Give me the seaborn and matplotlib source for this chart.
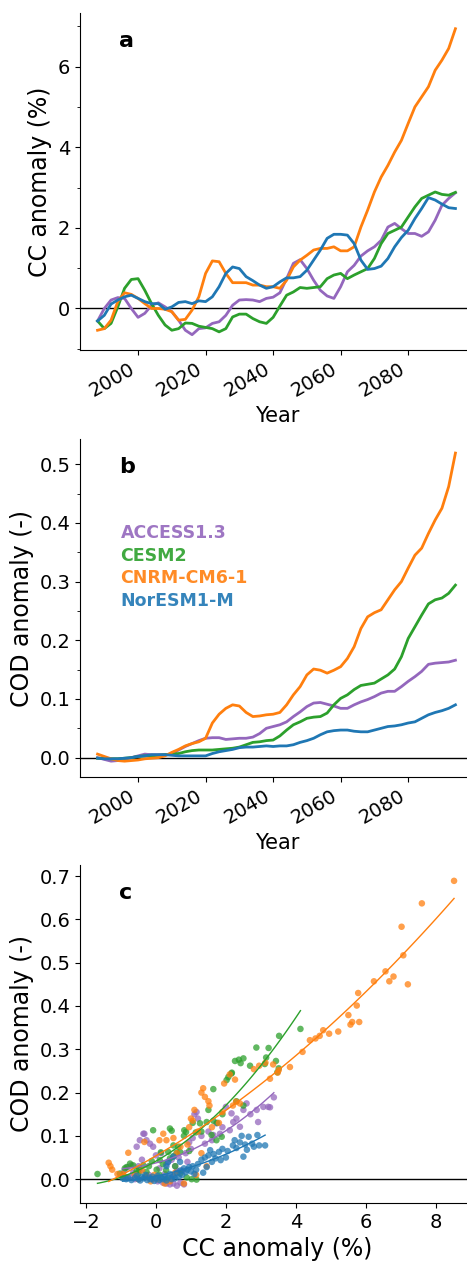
import numpy as np
import pandas as pd
import matplotlib
matplotlib.use("Agg")
import matplotlib.pyplot as plt
from matplotlib.ticker import MultipleLocator
import seaborn as sns

# ---------------- data ----------------
models = ["ACCESS1.3", "CESM2", "CNRM-CM6-1", "NorESM1-M"]
colors = ["#9467bd", "#2ca02c", "#ff7f0e", "#1f77b4"]
years = list(range(1988, 2095, 2))

cc_access = [-0.31, 0.0, 0.21, 0.27, 0.25, 0.0, -0.22, -0.12, 0.08, 0.14, 0.04, -0.08, -0.29, -0.54,
             -0.65, -0.50, -0.48, -0.37, -0.33, -0.17, 0.08, 0.21, 0.22, 0.21, 0.17, 0.25, 0.28, 0.39,
             0.74, 1.12, 1.21, 0.99, 0.70, 0.45, 0.31, 0.25, 0.54, 0.91, 1.07, 1.30, 1.43, 1.53,
             1.69, 2.02, 2.11, 1.98, 1.86, 1.86, 1.79, 1.90, 2.19, 2.56, 2.73, 2.87]
cc_cesm = [-0.31, -0.50, -0.37, 0.04, 0.50, 0.72, 0.74, 0.45, 0.12, -0.17, -0.41, -0.54, -0.50, -0.36,
           -0.37, -0.44, -0.47, -0.50, -0.58, -0.50, -0.21, -0.14, -0.14, -0.25, -0.33, -0.37, -0.22, 0.06,
           0.33, 0.41, 0.52, 0.50, 0.52, 0.54, 0.74, 0.83, 0.87, 0.74, 0.83, 0.91, 0.99, 1.24,
           1.61, 1.86, 1.94, 2.02, 2.27, 2.52, 2.73, 2.81, 2.89, 2.83, 2.81, 2.88]
cc_cnrm = [-0.54, -0.50, -0.29, 0.17, 0.39, 0.35, 0.25, 0.12, 0.0, 0.0, -0.02, -0.08, -0.29, -0.27,
           -0.04, 0.29, 0.87, 1.18, 1.16, 0.87, 0.64, 0.64, 0.64, 0.58, 0.58, 0.54, 0.54, 0.50,
           0.70, 1.03, 1.20, 1.32, 1.45, 1.49, 1.49, 1.53, 1.43, 1.43, 1.53, 2.02, 2.44, 2.89,
           3.26, 3.55, 3.88, 4.17, 4.59, 5.00, 5.25, 5.50, 5.91, 6.16, 6.45, 6.94]
cc_nor = [-0.31, -0.17, 0.11, 0.21, 0.29, 0.33, 0.25, 0.17, 0.12, 0.12, -0.02, 0.04, 0.15, 0.17,
          0.12, 0.19, 0.17, 0.29, 0.54, 0.87, 1.03, 0.99, 0.79, 0.69, 0.58, 0.50, 0.54, 0.66,
          0.76, 0.76, 0.79, 0.95, 1.20, 1.45, 1.74, 1.84, 1.84, 1.82, 1.61, 1.20, 0.97, 0.99,
          1.05, 1.24, 1.53, 1.76, 1.94, 2.23, 2.48, 2.75, 2.69, 2.59, 2.50, 2.48]

cod_access = [0.0, -0.003, -0.006, -0.005, -0.003, 0.0, 0.003, 0.006, 0.005, 0.005, 0.005, 0.006, 0.013, 0.019,
              0.024, 0.029, 0.033, 0.034, 0.034, 0.031, 0.032, 0.033, 0.033, 0.035, 0.041, 0.050, 0.053, 0.056,
              0.061, 0.070, 0.078, 0.087, 0.093, 0.094, 0.091, 0.088, 0.084, 0.084, 0.090, 0.095, 0.099, 0.104,
              0.110, 0.113, 0.113, 0.121, 0.130, 0.138, 0.147, 0.159, 0.161, 0.162, 0.163, 0.166]
cod_cesm = [-0.001, -0.001, -0.002, -0.002, -0.001, 0.0, 0.002, 0.003, 0.003, 0.004, 0.005, 0.006, 0.007, 0.010,
            0.012, 0.013, 0.013, 0.013, 0.014, 0.015, 0.016, 0.018, 0.022, 0.026, 0.027, 0.029, 0.030, 0.037,
            0.047, 0.056, 0.061, 0.067, 0.069, 0.070, 0.076, 0.090, 0.101, 0.107, 0.116, 0.123, 0.125, 0.127,
            0.134, 0.141, 0.151, 0.172, 0.203, 0.223, 0.243, 0.262, 0.269, 0.272, 0.280, 0.294]
cod_cnrm = [0.006, 0.002, -0.002, -0.005, -0.006, -0.005, -0.004, -0.002, -0.001, 0.0, 0.003, 0.009, 0.014, 0.020,
            0.024, 0.027, 0.033, 0.059, 0.074, 0.084, 0.090, 0.088, 0.077, 0.070, 0.071, 0.073, 0.074, 0.077,
            0.090, 0.107, 0.121, 0.141, 0.151, 0.149, 0.144, 0.149, 0.155, 0.169, 0.189, 0.220, 0.240, 0.247,
            0.252, 0.269, 0.286, 0.300, 0.323, 0.345, 0.357, 0.382, 0.405, 0.425, 0.462, 0.519]
cod_nor = [-0.001, -0.002, -0.002, -0.002, -0.001, 0.0, 0.002, 0.003, 0.005, 0.005, 0.005, 0.004, 0.003, 0.003,
           0.003, 0.003, 0.003, 0.007, 0.010, 0.012, 0.014, 0.017, 0.018, 0.018, 0.019, 0.020, 0.019, 0.020,
           0.020, 0.022, 0.026, 0.029, 0.033, 0.039, 0.044, 0.046, 0.047, 0.047, 0.045, 0.044, 0.044, 0.047,
           0.050, 0.053, 0.054, 0.056, 0.059, 0.061, 0.067, 0.073, 0.077, 0.080, 0.084, 0.090]

# annual scatter values (panel c): CC anomaly (%) and COD anomaly (-)
sc_cc_access = [-0.95, -0.9, -0.8, -0.75, -0.7, -0.65, -0.6, -0.55, -0.5, -0.45, -0.4, -0.33, -0.27, -0.2,
                -0.1, -0.08, 0.0, 0.05, 0.1, 0.15, 0.2, 0.25, 0.3, 0.35, 0.4, 0.45, 0.5, 0.55, 0.6, 0.65,
                0.7, 0.75, 0.8, 0.85, 0.9, 0.95, 1.0, 1.05, 1.1, 1.16, 1.2, 1.3, 1.4, 1.5, 1.6, 1.64, 1.73,
                1.83, 1.9, 2.0, 2.11, 2.16, 2.21, 2.3, 2.4, 2.5, 2.59, 2.7, 2.88, 2.92, 3.07, 3.21, 3.26, 3.37,
                -0.46, -0.17, -0.36, 0.3, 0.6, 0.45]
sc_cod_access = [0.01, 0.02, 0.028, 0.005, 0.032, 0.015, 0.0, 0.075, 0.03, 0.02, 0.045, 0.105, 0.09, 0.01,
                 0.0, 0.075, 0.055, -0.005, 0.025, 0.06, -0.008, 0.012, -0.01, 0.04, -0.012, 0.005, -0.01, 0.03,
                 -0.015, 0.05, -0.008, 0.02, -0.012, 0.06, 0.04, 0.085, 0.07, 0.095, 0.15, 0.155, 0.14, 0.1,
                 0.082, 0.11, 0.09, 0.102, 0.129, 0.105, 0.12, 0.167, 0.113, 0.152, 0.132, 0.14, 0.121, 0.16,
                 0.175, 0.15, 0.16, 0.132, 0.167, 0.167, 0.166, 0.189, 0.09, 0.082, 0.105, 0.035, 0.02, 0.045]
sc_cc_cesm = [-1.67, -1.03, -0.95, -0.89, -0.84, -0.74, -0.65, -0.55, -0.50, -0.48, -0.36, -0.3, -0.27, -0.2,
              -0.12, -0.08, 0.02, 0.1, 0.11, 0.14, 0.2, 0.29, 0.3, 0.35, 0.40, 0.40, 0.45, 0.50, 0.5, 0.55,
              0.59, 0.64, 0.69, 0.69, 0.80, 0.81, 0.86, 0.88, 0.95, 1.02, 1.05, 1.14, 1.16, 1.26, 1.3, 1.45,
              1.5, 1.59, 1.64, 1.64, 1.73, 1.75, 1.88, 1.9, 2.02, 2.07, 2.16, 2.17, 2.26, 2.3, 2.37, 2.42,
              2.5, 2.5, 2.69, 2.87, 3.11, 3.15, 3.22, 3.43, 3.47, 3.51, 3.52, 4.13]
sc_cod_cesm = [0.012, 0.013, 0.005, 0.025, 0.028, 0.036, 0.032, 0.02, 0.013, 0.024, 0.032, 0.005, 0.017, 0.03,
               0.042, 0.113, 0.022, 0.01, 0.044, 0.062, 0.035, 0.021, 0.0, 0.063, 0.117, 0.048, 0.112, 0.053, 0.078, 0.03,
               0.061, 0.075, 0.063, 0.013, 0.100, 0.113, 0.109, 0.004, 0.065, 0.0, 0.13, 0.108, -0.001, 0.129, 0.11, 0.132,
               0.16, 0.102, 0.135, 0.208, 0.090, 0.13, 0.098, 0.15, 0.229, 0.236, 0.244, 0.246, 0.273, 0.18, 0.276, 0.268,
               0.279, 0.17, 0.262, 0.304, 0.266, 0.281, 0.303, 0.273, 0.247, 0.256, 0.331, 0.347]
sc_cc_cnrm = [-1.35, -1.3, -1.25, -1.1, -0.95, -0.85, -0.79, -0.6, -0.5, -0.4, -0.33, -0.25, -0.15, -0.05,
              0.05, 0.1, 0.21, 0.25, 0.3, 0.4, 0.5, 0.55, 0.6, 0.7, 0.8, 0.9, 0.95, 1.0, 1.05, 1.1, 1.15,
              1.2, 1.3, 1.3, 1.35, 1.4, 1.45, 1.5, 1.53, 1.6, 1.8, 1.9, 1.95, 2.11, 2.2, 2.26, 2.29, 2.4, 2.8,
              2.95, 3.13, 3.26, 3.35, 3.48, 3.51, 3.83, 4.19, 4.40, 4.56, 4.68, 4.78, 4.95, 5.21, 5.50, 5.56,
              5.61, 5.74, 5.78, 5.81, 6.23, 6.56, 6.67, 6.79, 7.02, 7.07, 7.20, 7.60, 8.52]
sc_cod_cnrm = [0.038, 0.03, 0.022, 0.012, 0.012, 0.005, 0.061, 0.01, 0.0, 0.02, 0.086, 0.005, -0.005, 0.01,
               0.0, 0.09, 0.105, -0.01, 0.09, -0.005, 0.095, 0.015, 0.06, 0.075, -0.01, 0.08, 0.12, 0.14, 0.135, 0.16, 0.01,
               0.11, 0.06, 0.2, 0.21, 0.19, 0.03, 0.18, 0.17, 0.12, 0.13, 0.155, 0.221, 0.242, 0.17, 0.23, 0.179, 0.175, 0.254,
               0.262, 0.269, 0.232, 0.265, 0.246, 0.252, 0.259, 0.294, 0.321, 0.325, 0.331, 0.344, 0.336, 0.341, 0.379, 0.357,
               0.363, 0.401, 0.430, 0.363, 0.457, 0.480, 0.457, 0.468, 0.583, 0.517, 0.450, 0.637, 0.689]
sc_cc_nor = [-0.95, -0.85, -0.8, -0.7, -0.6, -0.55, -0.5, -0.45, -0.4, -0.35, -0.3, -0.25, -0.2, -0.15,
             -0.1, -0.05, 0.0, 0.05, 0.1, 0.15, 0.2, 0.25, 0.3, 0.35, 0.4, 0.45, 0.5, 0.55, 0.6, 0.65, 0.7,
             0.75, 0.8, 0.85, 0.9, 0.95, 1.0, 1.05, 1.1, 1.15, 1.2, 0.3, 0.5, 0.35, 0.69, 1.3, 1.35, 1.4,
             1.45, 1.5, 1.55, 1.6, 1.65, 1.7, 1.8, 1.85, 1.9, 2.0, 2.05, 2.2, 2.25, 2.3, 2.4, 2.45, 2.5,
             2.55, 2.6, 2.65, 2.75, 2.8, 2.9, 2.95, 3.12]
sc_cod_nor = [0.002, 0.0, 0.004, -0.002, 0.003, 0.008, 0.0, -0.003, 0.005, 0.002, 0.01, -0.002, 0.004, 0.0,
              0.006, -0.004, 0.002, 0.008, -0.002, 0.003, 0.0, 0.006, -0.003, 0.004, 0.012, 0.0, 0.007, 0.002, 0.015,
              0.005, 0.02, 0.01, 0.025, 0.016, 0.022, 0.028, 0.018, 0.03, 0.012, 0.022, 0.035, 0.03, 0.052, 0.04, 0.04,
              0.045, 0.015, 0.05, 0.028, 0.055, 0.067, 0.04, 0.058, 0.048, 0.063, 0.044, 0.07, 0.05, 0.065, 0.078,
              0.09, 0.072, 0.085, 0.1, 0.052, 0.08, 0.068, 0.098, 0.082, 0.075, 0.102, 0.078, 0.078]

# ---------------- assemble ----------------
cc_series = [cc_access, cc_cesm, cc_cnrm, cc_nor]
cod_series = [cod_access, cod_cesm, cod_cnrm, cod_nor]
sc_cc = [sc_cc_access, sc_cc_cesm, sc_cc_cnrm, sc_cc_nor]
sc_cod = [sc_cod_access, sc_cod_cesm, sc_cod_cnrm, sc_cod_nor]

ts = pd.concat([pd.DataFrame({"year": years, "cc": c, "cod": d, "model": m})
                for m, c, d in zip(models, cc_series, cod_series)], ignore_index=True)
sc = pd.concat([pd.DataFrame({"cc": c, "cod": d, "model": m})
                for m, c, d in zip(models, sc_cc, sc_cod)], ignore_index=True)
palette = dict(zip(models, colors))

plt.rcParams["font.family"] = ["DejaVu Sans"]
fig = plt.figure(figsize=(4.67, 12.62), dpi=100)
W, H = 467.0, 1262.0
def pos(l, t, r, b):
    return [l / W, 1 - b / H, (r - l) / W, (b - t) / H]

ax_a = fig.add_axes(pos(80, 13, 474, 350))
ax_b = fig.add_axes(pos(80, 439, 474, 777))
ax_c = fig.add_axes(pos(80, 865, 474, 1203))

TICK = 14
LAB = 17

# panel a
sns.lineplot(data=ts, x="year", y="cc", hue="model", palette=palette, hue_order=models,
             linewidth=2.0, legend=False, ax=ax_a)
ax_a.axhline(0, color="black", lw=1.0, zorder=0)
ax_a.set_xlim(1982.8, 2099.5)
ax_a.set_ylim(-1.03, 7.33)
ax_a.yaxis.set_major_locator(MultipleLocator(2))
ax_a.yaxis.set_minor_locator(MultipleLocator(1))
ax_a.set_ylabel("CC anomaly (%)", fontsize=LAB)
ax_a.set_xlabel("Year", fontsize=15)

# panel b
sns.lineplot(data=ts, x="year", y="cod", hue="model", palette=palette, hue_order=models,
             linewidth=2.0, legend=False, ax=ax_b)
ax_b.axhline(0, color="black", lw=1.0, zorder=0)
ax_b.set_xlim(1982.8, 2099.5)
ax_b.set_ylim(-0.033, 0.543)
ax_b.yaxis.set_major_locator(MultipleLocator(0.1))
ax_b.yaxis.set_minor_locator(MultipleLocator(0.05))
ax_b.set_ylabel("COD anomaly (-)", fontsize=LAB)
ax_b.set_xlabel("Year", fontsize=15)
for i, (m, c) in enumerate(zip(models, colors)):
    ax_b.text(0.103, 0.722 - i * 0.0667, m, color=c, alpha=0.9, fontsize=12.5, fontweight="bold",
              transform=ax_b.transAxes, ha="left", va="center")

for ax in (ax_a, ax_b):
    ax.set_xticks([2000, 2020, 2040, 2060, 2080])
    for lbl in ax.get_xticklabels():
        lbl.set_rotation(30)
        lbl.set_ha("right")

# panel c
sns.scatterplot(data=sc, x="cc", y="cod", hue="model", palette=palette, hue_order=models,
                s=22, alpha=0.75, linewidth=0, legend=False, ax=ax_c)
for m, c in zip(models, colors):
    sub = sc[sc.model == m]
    sns.regplot(data=sub, x="cc", y="cod", order=2, ci=None, scatter=False, truncate=True,
                line_kws={"color": c, "lw": 1.0}, ax=ax_c)
ax_c.axhline(0, color="black", lw=1.0, zorder=0)
ax_c.set_xlim(-2.17, 9.09)
ax_c.set_ylim(-0.055, 0.7256)
ax_c.xaxis.set_major_locator(MultipleLocator(2))
ax_c.yaxis.set_major_locator(MultipleLocator(0.1))
ax_c.set_xlabel("CC anomaly (%)", fontsize=LAB)
ax_c.set_ylabel("COD anomaly (-)", fontsize=LAB)

for ax, letter in zip((ax_a, ax_b, ax_c), "abc"):
    ax.text(0.10, 0.898, letter, transform=ax.transAxes, fontsize=16, fontweight="bold",
            ha="left", va="baseline")
    ax.tick_params(labelsize=TICK)
    sns.despine(ax=ax)

fig.savefig("out.png", dpi=100)
